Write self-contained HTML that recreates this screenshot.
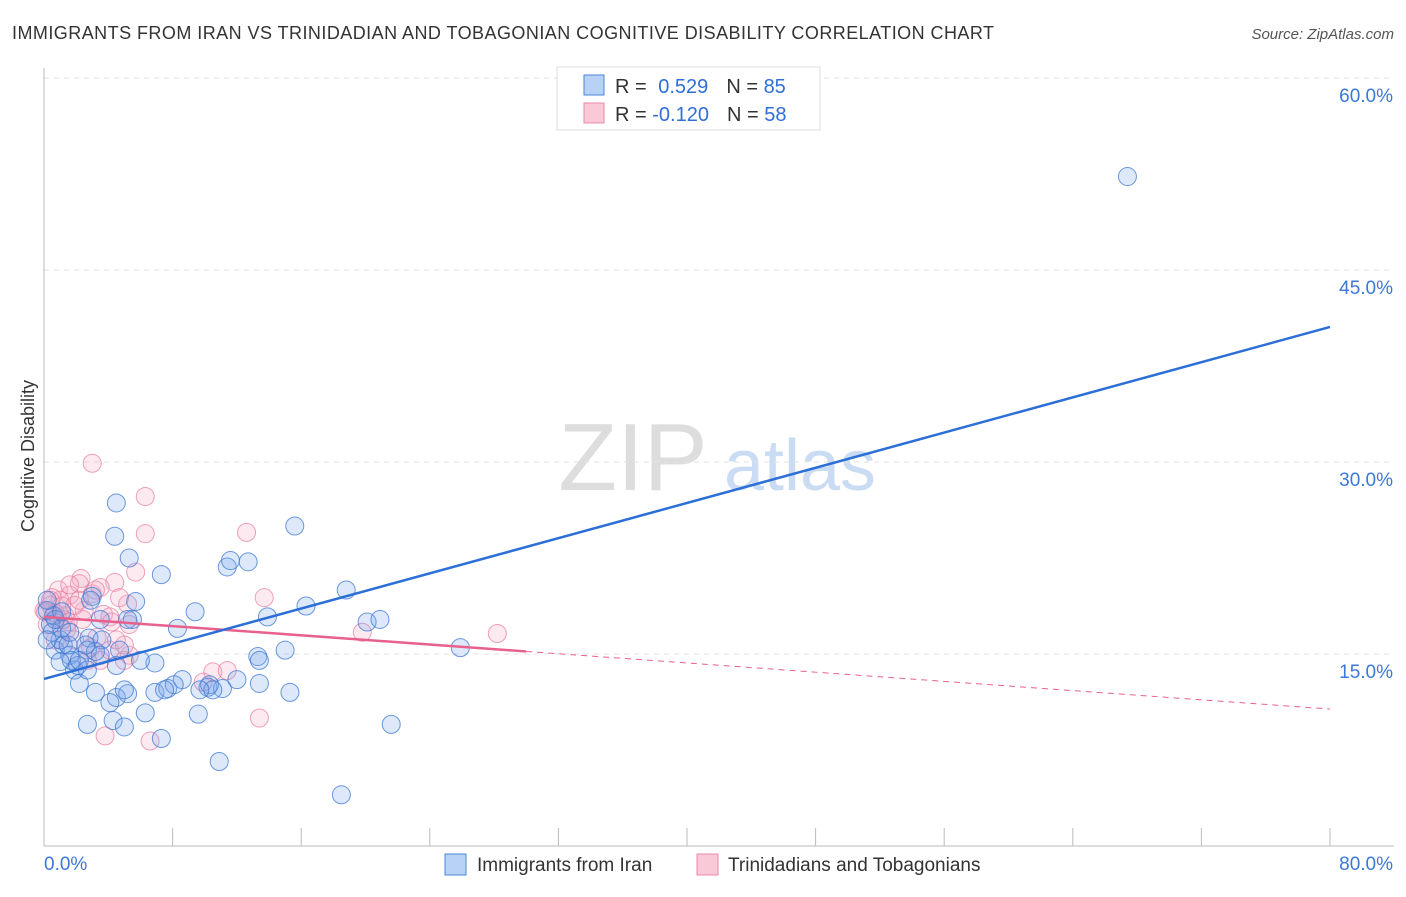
<!DOCTYPE html>
<html><head><meta charset="utf-8"><style>
body{margin:0;background:#fff;font-family:"Liberation Sans",sans-serif;}
svg text{font-family:"Liberation Sans",sans-serif;}
</style></head><body>
<svg id="chart" width="1406" height="892" xmlns="http://www.w3.org/2000/svg">
<text x="12" y="39" font-size="18" fill="#333" textLength="982" lengthAdjust="spacing">IMMIGRANTS FROM IRAN VS TRINIDADIAN AND TOBAGONIAN COGNITIVE DISABILITY CORRELATION CHART</text>
<text x="1394" y="39" font-size="15" fill="#555" font-style="italic" text-anchor="end">Source: ZipAtlas.com</text>
<g>
<text x="633" y="490" font-size="96" fill="#ddd" font-family="Liberation Serif" text-anchor="middle">ZIP</text>
<text x="800" y="490" font-size="72" fill="#c9dcf3" text-anchor="middle">atlas</text>
</g>
<g id="grid"></g>
<g id="axes"></g>
<g id="marks"></g>
<text transform="translate(34,456) rotate(-90)" font-size="18" fill="#333" text-anchor="middle">Cognitive Disability</text>
<g>
<rect x="557" y="67" width="263" height="63" fill="#fff" stroke="#ddd"/>
<rect x="584" y="75" width="20" height="20" fill="#b8d2f5" stroke="#4a86d8"/>
<rect x="584" y="103" width="20" height="20" fill="#f9c9d7" stroke="#e88aa8"/>
<text x="615" y="93" font-size="20" fill="#333">R = <tspan fill="#2f6fd6" dx="6">0.529</tspan><tspan dx="18">N = </tspan><tspan fill="#2f6fd6">85</tspan></text>
<text x="615" y="121" font-size="20" fill="#333">R = <tspan fill="#2f6fd6">-0.120</tspan><tspan dx="18">N = </tspan><tspan fill="#2f6fd6">58</tspan></text>
</g>
<g>
<rect x="445" y="854" width="21" height="21" fill="#b8d2f5" stroke="#4a86d8"/>
<text x="477" y="871" font-size="19" fill="#333">Immigrants from Iran</text>
<rect x="697" y="854" width="21" height="21" fill="#f9c9d7" stroke="#e88aa8"/>
<text x="728" y="871" font-size="19" fill="#333">Trinidadians and Tobagonians</text>
</g>
</svg>
<script>
const blueX=[67.4,15.6,4.5,4.4,5.3,7.3,11.4,11.6,12.7,18.8,9.4,16.3,13.9,20.1,20.9,25.9,8.3,5.7,5.5,3.0,3.5,5.2,2.8,3.6,1.2,0.7,1.6,2.7,1.0,0.4,0.2,0.5,3.5,4.5,1.9,2.2,3.2,4.5,5.2,6.9,7.7,8.6,10.2,11.1,12.0,13.4,15.3,15.0,13.3,6.9,2.1,4.1,4.3,2.7,5.0,6.3,9.6,7.3,10.9,21.6,18.5,1.7,1.5,1.0,2.2,0.6,0.2,3.2,2.6,1.1,0.2,8.1,7.5,10.3,10.5,5.0,2.7,13.4,9.7,4.7,1.6,0.7,1.1,2.9,6.0];
const blueY=[52.3,25.0,26.8,24.2,22.5,21.2,21.8,22.3,22.2,20.0,18.3,18.75,17.9,17.5,17.7,15.5,17.0,19.1,17.7,19.5,17.7,17.7,16.25,16.1,15.7,15.3,14.9,15.3,16.1,17.3,18.4,16.7,14.9,14.1,13.75,12.7,12.0,11.6,11.9,12.0,12.3,13.0,12.4,12.3,13.0,12.7,12.0,15.3,14.8,14.3,14.1,11.2,9.8,9.5,9.3,10.4,10.3,8.4,6.6,9.5,4.0,14.5,15.7,14.4,14.5,18.0,16.1,15.2,15.7,17.0,19.2,12.6,12.2,12.6,12.2,12.2,13.75,14.5,12.2,15.3,16.7,17.7,18.3,19.2,14.5];
const pinkX=[3.0,6.3,6.3,12.6,5.7,2.3,0.9,4.4,2.2,13.7,3.0,5.2,4.7,3.5,1.6,1.0,0.4,0.7,1.3,2.5,3.7,2.4,0.9,0.2,1.4,5.3,1.9,2.9,4.1,3.5,5.3,5.0,19.8,28.2,10.5,11.4,9.9,3.8,6.6,13.4,0.7,4.1,3.2,1.9,0.5,1.2,1.5,0.0,5.0,2.7,3.3,4.5,1.6,0.1,0.4,1.1,2.2,4.2];
const pinkY=[29.9,27.3,24.4,24.5,21.4,20.9,20.0,20.6,20.5,19.4,19.7,18.9,19.4,20.2,19.6,19.2,18.8,18.2,18.0,18.4,18.1,17.7,17.7,17.3,16.9,17.3,16.1,15.5,15.3,14.5,14.9,14.5,16.7,16.6,13.6,13.7,12.8,8.6,8.2,10.0,16.1,17.9,20.0,18.8,19.4,17.7,17.5,18.4,15.7,14.5,16.3,16.1,20.4,18.3,19.2,18.75,19.2,17.5];
const blueTrend=[13.05,40.55];
const pinkTrend=[17.9,10.7];
const pinkSolidEnd=30;
const yTicks=[15,30,45,60];
const xTicks=[0,8,16,24,32,40,48,56,64,72,80];
const NS="http://www.w3.org/2000/svg";
const sx=v=>44+v/80*1286;
const sy=v=>846-v/60*768;
function mk(tag,attrs,parent){const e=document.createElementNS(NS,tag);for(const k in attrs)e.setAttribute(k,attrs[k]);parent.appendChild(e);return e;}
const grid=document.getElementById('grid'),axes=document.getElementById('axes'),marks=document.getElementById('marks');
yTicks.forEach(t=>{
 const l=mk('line',{x1:44,x2:1394,y1:sy(t),y2:sy(t),stroke:'#e2e2e2','stroke-dasharray':'5,5'},grid);
 
 
 const tx=mk('text',{x:1393,y:sy(t)+24,'font-size':19,fill:'#3b78d8','text-anchor':'end'},axes);
 tx.textContent=t.toFixed(1)+'%';
 
 
});
const ya=mk('line',{x1:44,x2:44,y1:68,y2:846,stroke:'#bbb'},axes);


const xa=mk('line',{x1:44,x2:1394,y1:846,y2:846,stroke:'#bbb'},axes);


xTicks.forEach(t=>{
 const l=mk('line',{x1:sx(t),x2:sx(t),y1:828,y2:846,stroke:'#bbb'},axes);
 
 
});
const xl0=mk('text',{x:44,y:870,'font-size':19,fill:'#3b78d8'},axes);xl0.textContent=xTicks[0].toFixed(1)+'%';


const xl1=mk('text',{x:1393,y:870,'font-size':19,fill:'#3b78d8','text-anchor':'end'},axes);xl1.textContent=xTicks[xTicks.length-1].toFixed(1)+'%';


pinkX.forEach((x,i)=>{
 const c=mk('circle',{cx:sx(x),cy:sy(pinkY[i]),r:9,fill:'rgba(244,170,195,0.25)',stroke:'rgba(232,130,165,0.75)','stroke-width':1},marks);
 
 
});
blueX.forEach((x,i)=>{
 const c=mk('circle',{cx:sx(x),cy:sy(blueY[i]),r:9,fill:'rgba(120,165,235,0.25)',stroke:'rgba(60,120,210,0.75)','stroke-width':1},marks);
 
 
});
const pAt=x=>pinkTrend[0]+(pinkTrend[1]-pinkTrend[0])*x/80;
const pl=mk('line',{x1:sx(0),y1:sy(pinkTrend[0]),x2:sx(pinkSolidEnd),y2:sy(pAt(pinkSolidEnd)),stroke:'#e8608c','stroke-width':2.5},marks);


const pd=mk('line',{x1:sx(pinkSolidEnd),y1:sy(pAt(pinkSolidEnd)),x2:sx(80),y2:sy(pinkTrend[1]),stroke:'#e8608c','stroke-width':1,'stroke-dasharray':'6,5'},marks);


const bl=mk('line',{x1:sx(0),y1:sy(blueTrend[0]),x2:sx(80),y2:sy(blueTrend[1]),stroke:'#2c6fd6','stroke-width':2.5},marks);


</script>
</body></html>
